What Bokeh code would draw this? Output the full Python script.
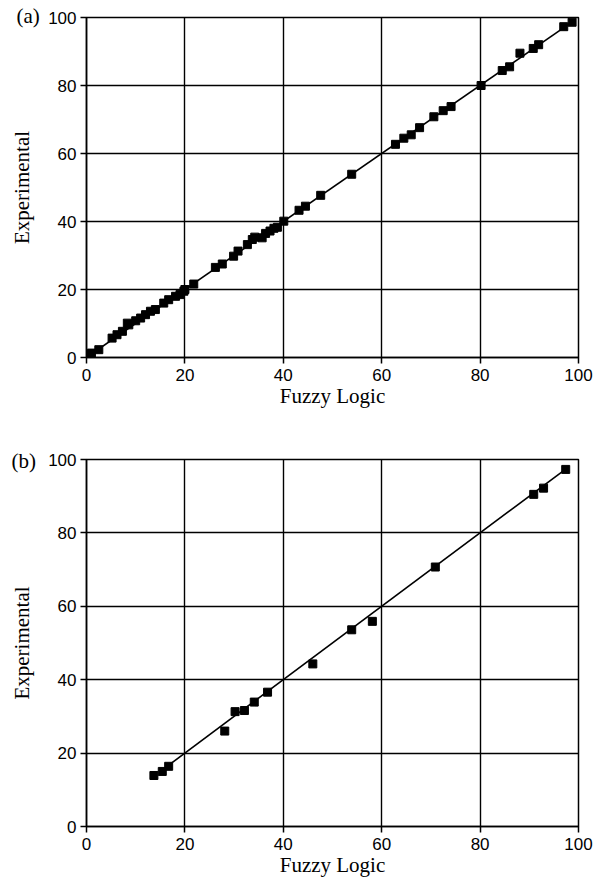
from bokeh.plotting import figure
from bokeh.layouts import column
from bokeh.models import Range1d, FixedTicker, Title
from bokeh.embed import file_html
from bokeh.resources import INLINE

# Panel (a): Fuzzy Logic vs Experimental
a_fuzzy = [0, 0.5, 1, 2.5, 5.2, 6.2, 7.3, 8.3, 8.6, 10, 11, 12, 13, 14, 15.7,
           16.7, 18.1, 19, 19.8, 20, 21.8, 26.2, 27.6, 29.9, 30.8, 32.7, 33.7,
           34.2, 35.7, 36.4, 37.3, 38.1, 38.8, 40.1, 43.2, 44.5, 47.6, 53.9,
           62.8, 64.5, 66, 67.7, 70.6, 72.5, 74.1, 80.2, 84.5, 86, 88.1, 90.8,
           91.9, 97, 98.7]
a_exp = [0, 0.8, 1.3, 2.3, 5.7, 6.7, 7.7, 10.1, 9.6, 10.8, 11.6, 12.6, 13.6,
         14.1, 16, 17, 18, 18.5, 19.5, 20, 21.6, 26.5, 27.5, 29.8, 31.3, 33.2,
         34.7, 35.4, 35.2, 36.5, 37.2, 38, 38.3, 40.1, 43.3, 44.5, 47.7, 53.9,
         62.7, 64.5, 65.5, 67.6, 70.8, 72.6, 73.8, 80, 84.4, 85.5, 89.5, 90.9,
         92, 97.3, 98.6]
a_line = [0, 99]

# Panel (b)
b_fuzzy = [13.7, 15.4, 16.7, 28.1, 30.2, 32.1, 34.1, 36.8, 46, 53.9, 58.1,
           70.9, 90.9, 92.9, 97.4]
b_exp = [13.9, 15, 16.4, 26, 31.3, 31.6, 33.9, 36.6, 44.3, 53.6, 55.9,
         70.7, 90.5, 92.2, 97.3]
b_line = [16.7, 97.4]

ticks = [0, 20, 40, 60, 80, 100]
x_title = "Fuzzy Logic"
y_title = "Experimental"
panel_tags = ["(a)", "(b)"]

SERIF = "Liberation Serif"
SANS = "Liberation Sans"


def make_panel(xs, ys, line, tag, height, left, right, top, bottom,
               tag_offset, tag_standoff):
    p = figure(width=594, height=height, output_backend="svg",
               toolbar_location=None, title=None,
               x_range=Range1d(0, 100), y_range=Range1d(0, 100),
               min_border_left=left, min_border_right=right,
               min_border_top=top, min_border_bottom=bottom)
    p.background_fill_color = "white"
    p.border_fill_color = "white"
    p.outline_line_color = "black"
    p.outline_line_width = 1.5
    for ax in (p.xaxis[0], p.yaxis[0]):
        ax.ticker = FixedTicker(ticks=ticks)
        ax.axis_line_color = "black"
        ax.axis_line_width = 1.5
        ax.major_tick_line_color = "black"
        ax.major_tick_line_width = 1.5
        ax.major_tick_in = 0
        ax.major_tick_out = 6
        ax.minor_tick_line_color = None
        ax.major_label_text_font = SANS
        ax.major_label_text_font_size = "17px"
        ax.major_label_text_color = "black"
        ax.axis_label_text_font = SERIF
        ax.axis_label_text_font_size = "21px"
        ax.axis_label_text_font_style = "normal"
        ax.axis_label_text_color = "black"
    p.xaxis[0].axis_label = x_title
    p.yaxis[0].axis_label = y_title
    p.xaxis[0].major_label_standoff = 5
    p.xaxis[0].axis_label_standoff = 0
    p.yaxis[0].major_label_standoff = 4
    p.yaxis[0].axis_label_standoff = 11
    for g in (p.xgrid[0], p.ygrid[0]):
        g.ticker = FixedTicker(ticks=ticks)
        g.grid_line_color = "black"
        g.grid_line_width = 1.4
        g.grid_line_alpha = 1.0
    p.line(line, line, line_color="black", line_width=1.6)
    p.scatter(xs, ys, marker="square", size=8, fill_color="black",
              line_color="black")
    p.add_layout(Title(text=tag, align="left", offset=tag_offset,
                       standoff=tag_standoff, text_font=SERIF,
                       text_font_size="21px", text_font_style="normal",
                       text_color="black"), "above")
    return p


pa = make_panel(a_fuzzy, a_exp, a_line, panel_tags[0], 440,
                86, 16, 17, 83, -70, -21)
pb = make_panel(b_fuzzy, b_exp, b_line, panel_tags[1], 439,
                82, 8, 19, 53, -75, -27)

layout = column(pa, pb, spacing=0)
open("out.html", "w").write(file_html(layout, INLINE))
